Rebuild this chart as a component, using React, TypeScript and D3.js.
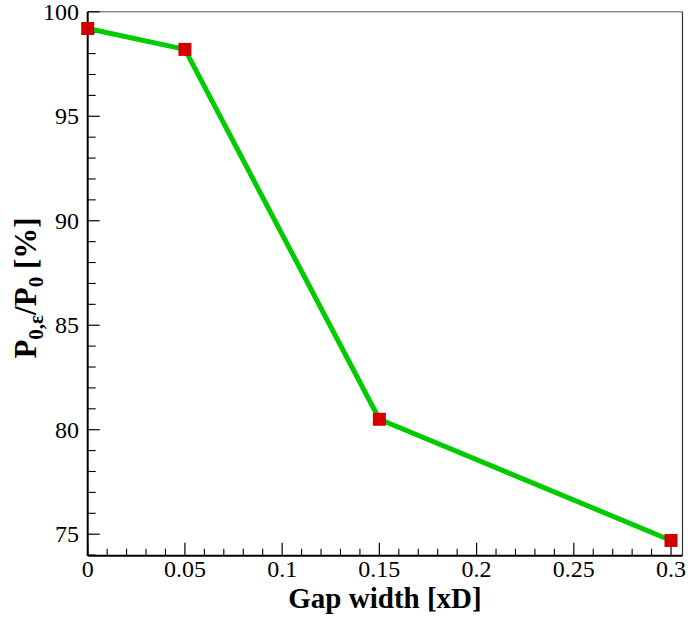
import React from "react";
import * as d3 from "d3";

const gapWidth = [0, 0.05, 0.15, 0.3];
const pressureRatio = [99.2, 98.2, 80.5, 74.7];
const xTicks = [0, 0.05, 0.1, 0.15, 0.2, 0.25, 0.3];
const xTickLabels = ["0", "0.05", "0.1", "0.15", "0.2", "0.25", "0.3"];
const yTicks = [75, 80, 85, 90, 95, 100];

const FONT = "'Liberation Serif', 'DejaVu Serif', serif";

export default function App() {
  const W = 688, H = 620;
  const left = 87.7, right = 682.5, top = 11.8, bottom = 555.7;
  const x = d3.scaleLinear().domain([0, 0.3059]).range([left, right]);
  const y = d3.scaleLinear().domain([73.97, 100]).range([bottom, top]);
  const xMinor = d3.range(0, 0.3001, 0.01).filter((v) => Math.abs(v / 0.05 - Math.round(v / 0.05)) > 1e-6);
  const yMinor = d3.range(74, 100.001, 1).filter((v) => v % 5 !== 0);
  const line = d3.line<number>().x((_, i) => x(gapWidth[i])).y((d) => y(d));
  return (
    <svg width={W} height={H} style={{ position: "absolute", left: 0, top: 0 }}>
      <rect width={W} height={H} fill="#fff" />
      <line x1={left} x2={right} y1={top} y2={top} stroke="#555" strokeWidth={1} />
      <line x1={right} x2={right} y1={top} y2={bottom} stroke="#333" strokeWidth={1.2} />
      {xTicks.map((t, i) => (
        <g key={"xt" + i}>
          <line x1={x(t)} x2={x(t)} y1={bottom} y2={bottom - 13} stroke="#000" strokeWidth={1.2} />
          <text x={x(t)} y={577} fontFamily={FONT} fontSize={24} textAnchor="middle" fill="#000">{xTickLabels[i]}</text>
        </g>
      ))}
      {xMinor.map((t, i) => (
        <line key={"xm" + i} x1={x(t)} x2={x(t)} y1={bottom} y2={bottom - 7} stroke="#000" strokeWidth={1.1} />
      ))}
      {yTicks.map((t, i) => (
        <g key={"yt" + i}>
          <line x1={left} x2={left + 12} y1={y(t)} y2={y(t)} stroke="#000" strokeWidth={1.2} />
          <text x={79} y={y(t) + 8} fontFamily={FONT} fontSize={24} textAnchor="end" fill="#000">{t}</text>
        </g>
      ))}
      {yMinor.map((t, i) => (
        <line key={"ym" + i} x1={left} x2={left + 8} y1={y(t)} y2={y(t)} stroke="#000" strokeWidth={1.1} />
      ))}
      <line x1={left} x2={left} y1={top} y2={bottom} stroke="#000" strokeWidth={2} />
      <line x1={left} x2={right} y1={bottom} y2={bottom} stroke="#000" strokeWidth={2} />
      <path d={line(pressureRatio) || ""} fill="none" stroke="#00cc00" strokeWidth={5} strokeLinejoin="round" />
      {pressureRatio.map((v, i) => (
        <rect key={"m" + i} x={x(gapWidth[i]) - 6.5} y={y(v) - 6.5} width={13} height={13} fill="#d40000" />
      ))}
      <text x={385} y={608} fontFamily={FONT} fontSize={29} fontWeight="bold" textAnchor="middle" fill="#000">Gap width [xD]</text>
      <text transform="translate(36,288) rotate(-90)" fontFamily={FONT} fontSize={31} fontWeight="bold" textAnchor="middle" fill="#000">
        P<tspan fontSize={21} dy={7}>0,ε</tspan><tspan dy={-7}>/P</tspan><tspan fontSize={21} dy={7}>0</tspan><tspan dy={-7}> [%]</tspan>
      </text>
    </svg>
  );
}
